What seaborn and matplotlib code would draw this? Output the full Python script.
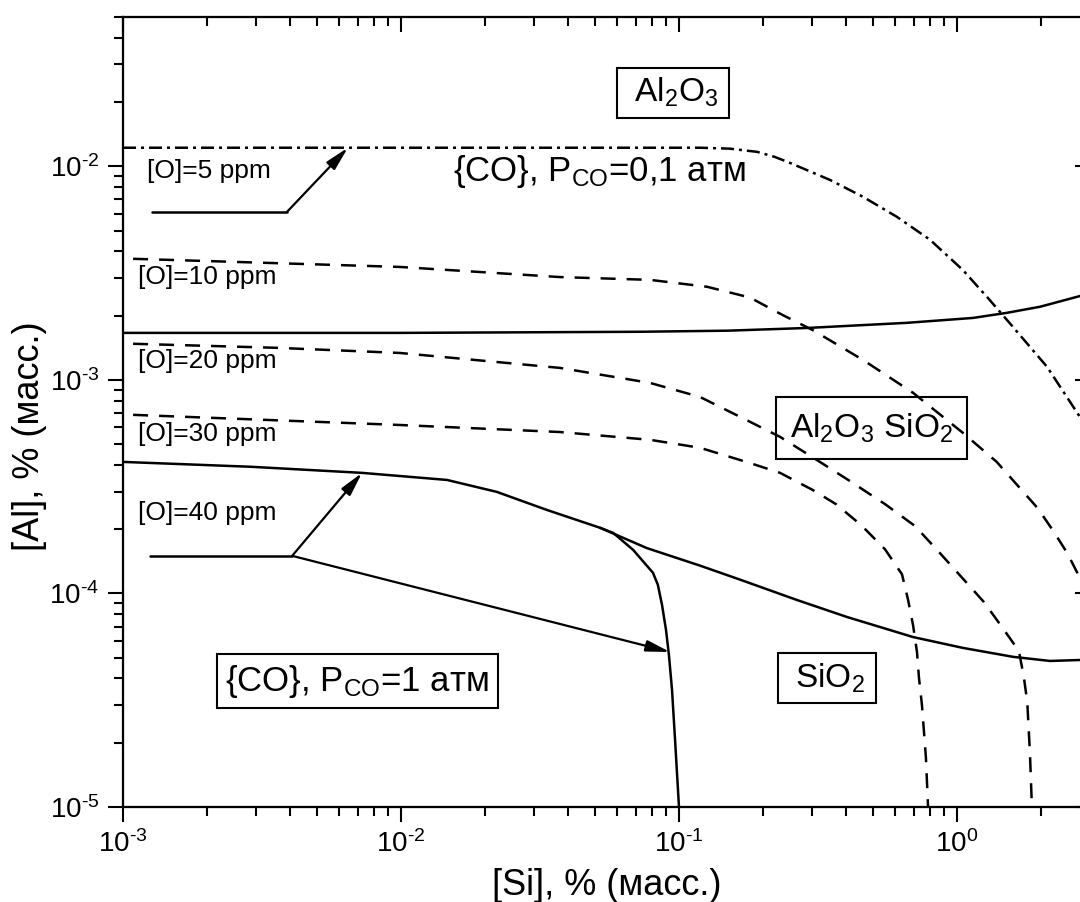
import math
import matplotlib
matplotlib.use("Agg")
import matplotlib.pyplot as plt
from matplotlib import ticker
import seaborn as sns

# ---- phase-boundary data: [Si] and [Al], mass % ----
# {CO} equilibrium, P_CO = 0.1 atm
si_co01 = [0.001, 0.01, 0.05, 0.119, 0.152, 0.191, 0.221, 0.251, 0.349, 0.459, 0.608,
           0.800, 1.05, 1.31, 1.59, 2.11, 2.77, 3.0]
al_co01 = [0.01222, 0.01222, 0.01222, 0.01222, 0.0121, 0.01169, 0.01107, 0.01037,
           0.00864, 0.00720, 0.00580, 0.00453, 0.00327, 0.00237, 0.00177, 0.00115,
           0.00067, 0.00058]

# Al2O3 / Al2O3*SiO2 boundary
si_al2o3 = [0.001, 0.01, 0.0725, 0.15, 0.288, 0.661, 1.14, 1.51, 1.99, 2.77, 3.0]
al_al2o3 = [0.00166, 0.00166, 0.00168, 0.00170, 0.00175, 0.00185, 0.00195, 0.00206,
            0.00220, 0.00247, 0.00256]

# Al2O3*SiO2 / SiO2 boundary
si_sio2 = [0.001, 0.00287, 0.00724, 0.01464, 0.0221, 0.0335, 0.0520, 0.0767, 0.119,
           0.166, 0.265, 0.402, 0.695, 1.05, 1.59, 2.16, 2.77, 3.0]
al_sio2 = [4.13e-4, 3.92e-4, 3.67e-4, 3.40e-4, 2.99e-4, 2.46e-4, 2.03e-4, 1.63e-4,
           1.35e-4, 1.16e-4, 9.33e-5, 7.76e-5, 6.25e-5, 5.56e-5, 5.05e-5, 4.83e-5,
           4.88e-5, 4.93e-5]

# {CO} equilibrium, P_CO = 1 atm
si_co1 = [0.0520, 0.0580, 0.0684, 0.0806, 0.0839, 0.0869, 0.0898, 0.0920, 0.0944,
          0.0968, 0.1]
al_co1 = [2.03e-4, 1.92e-4, 1.60e-4, 1.25e-4, 1.10e-4, 8.83e-5, 6.75e-5, 5.15e-5,
          3.53e-5, 2.06e-5, 1.0e-5]

# iso-oxygen lines
si_o10 = [0.001087, 0.0099, 0.0373, 0.0787, 0.126, 0.180, 0.2364, 0.303, 0.459, 0.695,
          1.05, 1.39, 1.95, 2.21, 2.49, 2.77, 3.0]
al_o10 = [3.69e-3, 3.38e-3, 3.03e-3, 2.94e-3, 2.73e-3, 2.43e-3, 2.01e-3, 1.71e-3,
          1.24e-3, 8.70e-4, 5.65e-4, 4.13e-4, 2.51e-4, 1.98e-4, 1.55e-4, 1.18e-4,
          1.00e-4]

si_o20 = [0.001087, 0.00358, 0.0099, 0.0373, 0.0787, 0.119, 0.166, 0.231, 0.313,
          0.412, 0.551, 0.706, 0.855, 1.04, 1.25, 1.46, 1.67, 1.74, 1.79, 1.83, 1.86]
al_o20 = [1.476e-3, 1.413e-3, 1.337e-3, 1.138e-3, 9.68e-4, 8.32e-4, 6.71e-4, 5.41e-4,
          4.22e-4, 3.36e-4, 2.62e-4, 2.07e-4, 1.58e-4, 1.19e-4, 9.12e-5, 6.89e-5,
          5.38e-5, 4.06e-5, 3.10e-5, 1.79e-5, 1.0e-5]

si_o30 = [0.001087, 0.0099, 0.0373, 0.0787, 0.119, 0.180, 0.231, 0.303, 0.367,
          0.452, 0.551, 0.634, 0.667, 0.695, 0.718, 0.730, 0.748, 0.773, 0.787]
al_o30 = [6.86e-4, 6.15e-4, 5.70e-4, 5.24e-4, 4.81e-4, 4.08e-4, 3.67e-4, 3.05e-4,
          2.62e-4, 2.09e-4, 1.61e-4, 1.23e-4, 9.33e-5, 7.11e-5, 5.32e-5, 4.02e-5,
          3.01e-5, 1.71e-5, 1.0e-5]

# leader lines and arrow targets for the oxygen labels
lead5_si = [0.00127, 0.00389]
lead5_al = [0.00612, 0.00612]
arrow5_to = (0.00644, 0.01222)

lead40_si = [0.00125, 0.00406]
lead40_al = [1.50e-4, 1.50e-4]
arrow40_up = (0.00724, 3.67e-4)
arrow40_down = (0.0929, 5.32e-5)

x_lim = (1e-3, 3.0)
y_lim = (1e-5, 0.05)

# ---- style ----
sns.set_theme(style="ticks", rc={
    "axes.edgecolor": "black", "axes.labelcolor": "black", "text.color": "black",
    "xtick.color": "black", "ytick.color": "black", "axes.linewidth": 1.5,
})
plt.rcParams["font.family"] = ["Liberation Sans", "DejaVu Sans"]
plt.rcParams["mathtext.fontset"] = "custom"
plt.rcParams["mathtext.rm"] = "Liberation Sans"
plt.rcParams["mathtext.it"] = "Liberation Sans:italic"
plt.rcParams["mathtext.bf"] = "Liberation Sans:bold"
plt.rcParams["axes.unicode_minus"] = False

LW = 1.8
SOLID = "-"
DASHED = (0, (6.0, 4.4))
DASHDOT = (0, (5.2, 2.0, 1.2, 2.0))

fig = plt.figure(figsize=(10.8, 9.02), dpi=100)
ax = fig.add_axes([0.1139, 0.1053, 0.895, 0.8758])
ax.set_xscale("log")
ax.set_yscale("log")


def curve(si, al, ls):
    sns.lineplot(x=si, y=al, ax=ax, color="black", linewidth=LW, linestyle=ls,
                 sort=False, estimator=None, legend=False)


curve(si_co01, al_co01, DASHDOT)
curve(si_al2o3, al_al2o3, SOLID)
curve(si_sio2, al_sio2, SOLID)
curve(si_co1, al_co1, SOLID)
curve(si_o10, al_o10, DASHED)
curve(si_o20, al_o20, DASHED)
curve(si_o30, al_o30, DASHED)
curve(lead5_si, lead5_al, SOLID)
curve(lead40_si, lead40_al, SOLID)

arrow_kw = dict(arrowstyle="-|>,head_length=0.72,head_width=0.17", color="black",
                lw=1.6, mutation_scale=20, shrinkA=0, shrinkB=0)
ax.annotate("", xy=arrow5_to, xytext=(lead5_si[1], lead5_al[1]), arrowprops=arrow_kw)
ax.annotate("", xy=arrow40_up, xytext=(lead40_si[1], lead40_al[1]), arrowprops=arrow_kw)
ax.annotate("", xy=arrow40_down, xytext=(lead40_si[1], lead40_al[1]), arrowprops=arrow_kw)

ax.set_xlim(*x_lim)
ax.set_ylim(*y_lim)

# ---- labels on the diagram ----
FS_O = 19
ax.text(0.00122, 9.53e-3, "[O]=5 ppm", fontsize=FS_O, ha="left", va="center")
ax.text(0.001133, 3.03e-3, "[O]=10 ppm", fontsize=FS_O, ha="left", va="center")
ax.text(0.001133, 1.23e-3, "[O]=20 ppm", fontsize=FS_O, ha="left", va="center")
ax.text(0.001133, 5.58e-4, "[O]=30 ppm", fontsize=FS_O, ha="left", va="center")
ax.text(0.001133, 2.38e-4, "[O]=40 ppm", fontsize=FS_O, ha="left", va="center")

ax.text(0.01538, 9.42e-3, r"{CO}, P$_\mathregular{CO}$=0,1 атм", fontsize=25,
        ha="left", va="center")

box = dict(boxstyle="square,pad=0.25", fc="none", ec="black", lw=1.5)
ax.text(0.0951, 0.0221, r" Al$_\mathregular{2}$O$_\mathregular{3}$ ", fontsize=24,
        ha="center", va="center", bbox=box)
ax.text(0.491, 5.96e-4, r"Al$_\mathregular{2}$O$_\mathregular{3}$ SiO$_\mathregular{2}$",
        fontsize=24, ha="center", va="center",
        bbox=dict(boxstyle="square,pad=0.42", fc="none", ec="black", lw=1.5))
ax.text(0.340, 4.02e-5, r" SiO$_\mathregular{2}$ ", fontsize=24, ha="center",
        va="center", bbox=box)
ax.text(0.00695, 3.89e-5, r"{CO}, P$_\mathregular{CO}$=1 атм", fontsize=25,
        ha="center", va="center", bbox=box)

# ---- axes ----
ax.set_xlabel("[Si], % (масс.)", fontsize=26)
ax.set_ylabel("[Al], % (масс.)", fontsize=26)
ax.xaxis.set_label_coords(0.5, -0.099)
ax.xaxis.label.set_va("center")
ax.yaxis.set_label_coords(-0.097, 0.47)
ax.yaxis.label.set_va("center")


def decade_label(v, pos):
    # power-of-ten label with a plain hyphen in the exponent
    return r"10$^{\text{%d}}$" % int(round(math.log10(v)))


ax.xaxis.set_major_formatter(ticker.FuncFormatter(decade_label))
ax.yaxis.set_major_formatter(ticker.FuncFormatter(decade_label))
ax.xaxis.set_minor_formatter(ticker.NullFormatter())
ax.yaxis.set_minor_formatter(ticker.NullFormatter())

ax.tick_params(axis="both", which="major", direction="out", length=11, width=1.5,
               labelsize=20, pad=6)
ax.tick_params(axis="both", which="minor", direction="out", length=6.5, width=1.5)
ax.tick_params(top=False, right=False, which="both")

ax_top = ax.twiny()
ax_top.set_xscale("log")
ax_top.set_xlim(*x_lim)
ax_top.tick_params(axis="x", which="major", direction="in", length=11, width=1.5,
                   labeltop=False)
ax_top.tick_params(axis="x", which="minor", direction="in", length=6.5, width=1.5)

ax_right = ax.twinx()
ax_right.set_yscale("log")
ax_right.set_ylim(*y_lim)
ax_right.tick_params(axis="y", which="major", direction="in", length=11, width=1.5,
                     labelright=False)
ax_right.tick_params(axis="y", which="minor", direction="in", length=6.5, width=1.5)

for a in (ax, ax_top, ax_right):
    for sp in a.spines.values():
        sp.set_linewidth(1.5)
        sp.set_color("black")

fig.savefig("out.png", dpi=100)
